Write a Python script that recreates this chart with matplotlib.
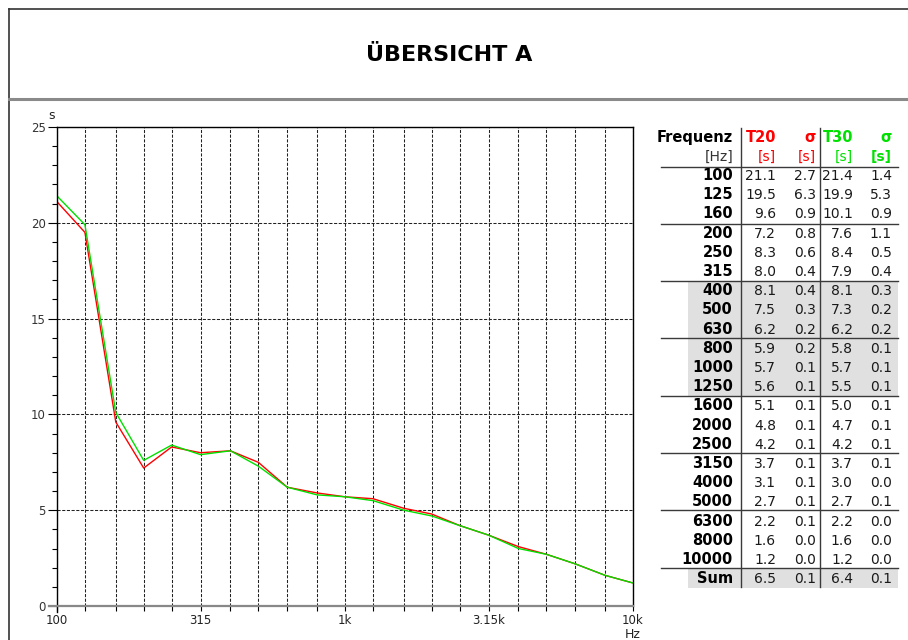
import matplotlib
matplotlib.use("Agg")
import matplotlib.pyplot as plt
from matplotlib.lines import Line2D
from matplotlib.patches import Rectangle

plt.rcParams.update({"font.family": "DejaVu Sans"})

RED = "#ff0000"
GREEN = "#00e000"
TEXT = "#1a1a1a"

FREQS = [100, 125, 160, 200, 250, 315, 400, 500, 630, 800, 1000, 1250,
         1600, 2000, 2500, 3150, 4000, 5000, 6300, 8000, 10000]
T20 = [21.1, 19.5, 9.6, 7.2, 8.3, 8.0, 8.1, 7.5, 6.2, 5.9, 5.7, 5.6,
       5.1, 4.8, 4.2, 3.7, 3.1, 2.7, 2.2, 1.6, 1.2]
SIG20 = [2.7, 6.3, 0.9, 0.8, 0.6, 0.4, 0.4, 0.3, 0.2, 0.2, 0.1, 0.1,
         0.1, 0.1, 0.1, 0.1, 0.1, 0.1, 0.1, 0.0, 0.0]
T30 = [21.4, 19.9, 10.1, 7.6, 8.4, 7.9, 8.1, 7.3, 6.2, 5.8, 5.7, 5.5,
       5.0, 4.7, 4.2, 3.7, 3.0, 2.7, 2.2, 1.6, 1.2]
SIG30 = [1.4, 5.3, 0.9, 1.1, 0.5, 0.4, 0.3, 0.2, 0.2, 0.1, 0.1, 0.1,
         0.1, 0.1, 0.1, 0.1, 0.0, 0.1, 0.0, 0.0, 0.0]
SUM = [6.5, 0.1, 6.4, 0.1]
XLABELS = {100: "100", 315: "315", 1000: "1k", 3150: "3.15k", 10000: "10k"}

W, H = 908, 640
fig = plt.figure(figsize=(W / 100, H / 100), dpi=100)
fig.patch.set_facecolor("white")

# page overlay in pixel coordinates (frame, title, table)
pg = fig.add_axes([0, 0, 1, 1])
pg.set_xlim(0, W)
pg.set_ylim(H, 0)
pg.set_axis_off()

pg.add_line(Line2D([9, W], [9, 9], color="#333333", lw=1.2))
pg.add_line(Line2D([9, 9], [9, H], color="#333333", lw=1.2))
pg.add_line(Line2D([9, W], [98.5, 98.5], color="#8a8a8a", lw=2.2))
pg.text(449, 55, "ÜBERSICHT A", ha="center", va="center",
        fontsize=16, fontweight="bold", color="black")

# --- chart ---
ax = fig.add_axes([57 / W, 34 / H, 576 / W, 479 / H])
ax.set_xscale("log")
ax.set_xlim(FREQS[0], FREQS[-1])
ax.set_ylim(0, 25)

ax.plot(FREQS, T20, color=RED, lw=1.0, zorder=4)
ax.plot(FREQS, T30, color=GREEN, lw=1.0, zorder=4)

ax.set_xticks(FREQS, labels=[XLABELS.get(f, "") for f in FREQS])
ax.xaxis.set_minor_locator(matplotlib.ticker.NullLocator())
ax.set_yticks(range(0, 26, 5))
ax.set_yticks(range(0, 26), minor=True)
ax.tick_params(axis="x", direction="out", length=3.6, width=0.8,
               color="black", labelsize=8.5, labelcolor="#222222", pad=2)
ax.tick_params(axis="y", which="major", direction="out", length=6.5,
               width=0.8, color="black", labelsize=8.5,
               labelcolor="#333333", pad=1.5)
ax.tick_params(axis="y", which="minor", direction="out", length=3.6,
               width=0.8, color="black")

ax.grid(True, which="major", color="#222222", lw=0.75,
        linestyle=(0, (3, 1.5)))
ax.set_axisbelow(True)

for side in ("left", "bottom"):
    ax.spines[side].set_visible(False)
ax.spines["top"].set_color("black")
ax.spines["right"].set_color("black")
ax.spines["top"].set_linewidth(1)
ax.spines["right"].set_linewidth(1)

ax.add_line(Line2D([0, 0], [-0.0125, 1], transform=ax.transAxes,
                   color="black", lw=1, clip_on=False, zorder=5))
ax.add_line(Line2D([-0.014, 1], [0, 0], transform=ax.transAxes,
                   color="#888888", lw=1.6, clip_on=False, zorder=5))

ax.text(-0.01, 1.01, "s", transform=ax.transAxes, ha="center",
        va="bottom", fontsize=9, color="#222222")
ax.text(1.0, -0.045, "Hz", transform=ax.transAxes, ha="center",
        va="top", fontsize=9, color="#222222")

# --- table ---
X_F, X_T20, X_S20, X_T30, X_S30 = 733, 776, 816, 853, 892
BASE0, PITCH = 180, 19.2
SEP0, SEP_STEP = 166.5, 57.3
seps = [SEP0 + SEP_STEP * k for k in range(8)]

pg.add_patch(Rectangle((688, seps[2]), 210, seps[4] - seps[2],
                       facecolor="#e0e0e0", edgecolor="none"))
pg.add_patch(Rectangle((688, seps[7]), 210, 587.5 - seps[7],
                       facecolor="#e0e0e0", edgecolor="none"))
for y in seps:
    pg.add_line(Line2D([661, 898], [y, y], color="#3a3a3a", lw=1))
for x in (741, 820):
    pg.add_line(Line2D([x, x], [128, 587], color="#3a3a3a", lw=1))

hdr = dict(fontsize=10.5, fontweight="bold", va="baseline", ha="right")
pg.text(X_F, 142, "Frequenz", color="black", **hdr)
pg.text(X_T20, 142, "T20", color=RED, **hdr)
pg.text(X_S20, 142, "σ", color=RED, **hdr)
pg.text(X_T30, 142, "T30", color=GREEN, **hdr)
pg.text(X_S30, 142, "σ", color=GREEN, **hdr)

unit = dict(fontsize=10, va="baseline", ha="right")
pg.text(X_F, 161, "[Hz]", color="#333333", **unit)
pg.text(X_T20, 161, "[s]", color=RED, **unit)
pg.text(X_S20, 161, "[s]", color=RED, **unit)
pg.text(X_T30, 161, "[s]", color=GREEN, **unit)
pg.text(X_S30, 161, "[s]", color=GREEN, fontweight="bold", **unit)

num = dict(fontsize=10, va="baseline", ha="right", color=TEXT)
rows = list(zip(FREQS, T20, SIG20, T30, SIG30))
for i, (f, a, b, c, d) in enumerate(rows):
    y = BASE0 + PITCH * i
    pg.text(X_F, y, str(f), fontsize=10.5, fontweight="bold",
            va="baseline", ha="right", color="black")
    pg.text(X_T20, y, f"{a:.1f}", **num)
    pg.text(X_S20, y, f"{b:.1f}", **num)
    pg.text(X_T30, y, f"{c:.1f}", **num)
    pg.text(X_S30, y, f"{d:.1f}", **num)

y = BASE0 + PITCH * len(rows)
pg.text(X_F, y, "Sum", fontsize=10.5, fontweight="bold",
        va="baseline", ha="right", color="black")
for x, v in zip((X_T20, X_S20, X_T30, X_S30), SUM):
    pg.text(x, y, f"{v:.1f}", **num)

fig.savefig("out.png", dpi=100, facecolor="white")
